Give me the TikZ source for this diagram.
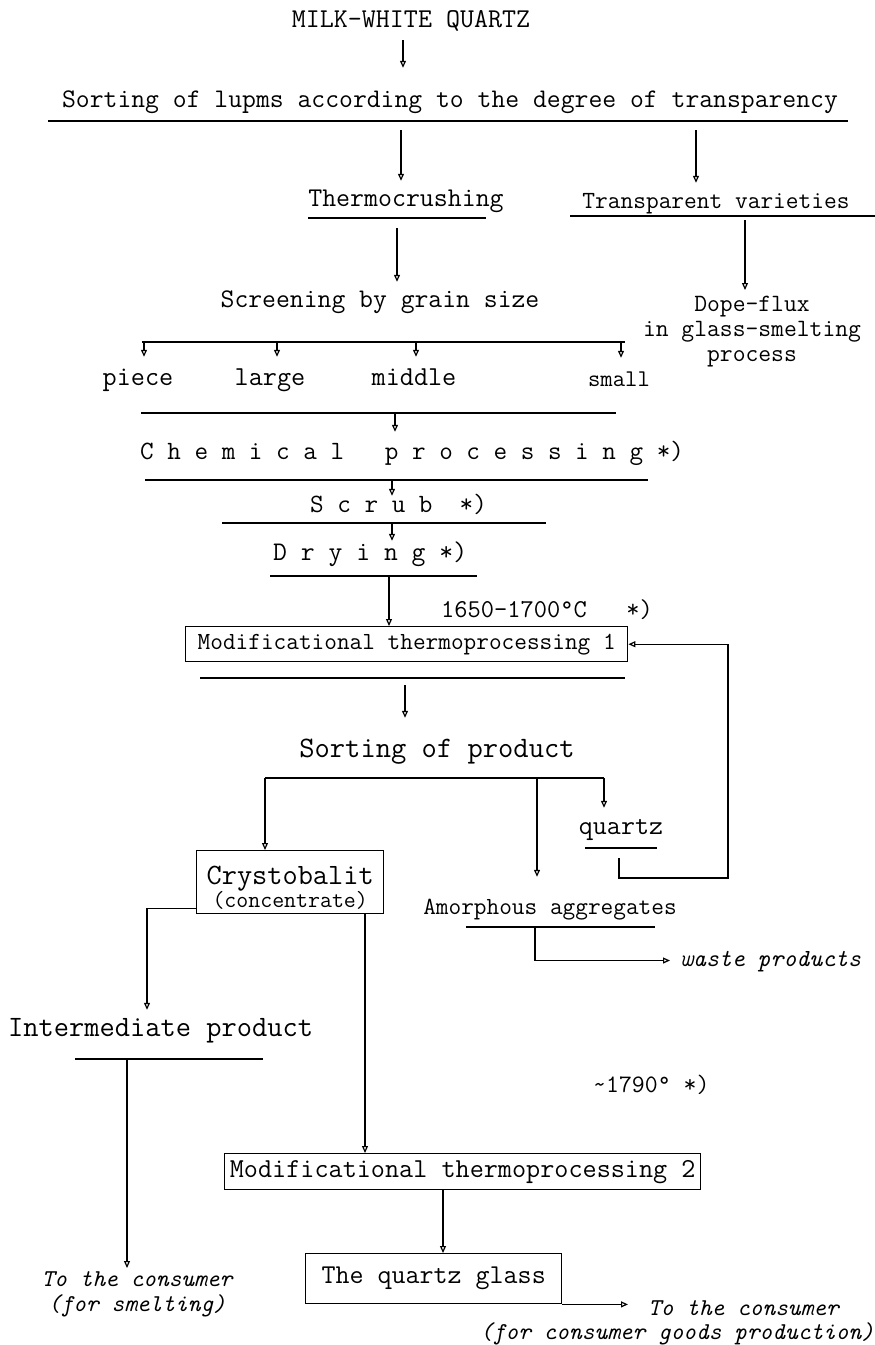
\documentclass[tikz,border=0pt]{standalone}
\usepackage{fontspec}
\setmainfont{Latin Modern Mono}
\usetikzlibrary{arrows.meta}
\begin{document}
\begin{tikzpicture}[x=1pt,y=-1pt,
  txt/.style={inner sep=0pt, text height=16pt, text depth=5pt},
  fs/.style={font=\fontsize{#1}{25}\selectfont},
  ital/.style={font=\fontsize{#1}{25}\selectfont\itshape},
  bar/.style={line width=2.6pt},
  thinbar/.style={line width=1.6pt},
  conn/.style={line width=1.2pt},
  arr/.style={conn, -{Triangle[open, length=7pt, width=6pt]}},
  box/.style={draw, line width=1.4pt, inner sep=0pt, align=center},
]
\fill[white] (0,0) rectangle (875,1345);
\useasboundingbox (0,0) rectangle (875,1345);

% ---- text labels ----
\node[txt, fs=27.2, anchor=base] (milk) at (411,27) {MILK-WHITE QUARTZ};
\node[txt, fs=26.9, anchor=base] (lupms) at (450,107) {Sorting of lupms according to the degree of transparency};
\node[txt, fs=27.1, anchor=base] (thermo) at (406,206) {Thermocrushing};
\node[txt, fs=24.7, anchor=base] (transp) at (716,208) {Transparent varieties};
\node[txt, fs=26.9, anchor=base] (screen) at (380,307) {Screening by grain size};
\node[fs=24.9, align=center, inner sep=0pt, anchor=north] (dope) at (752,296) {Dope-flux\\in glass-smelting\\process};
\node[txt, fs=27.4, anchor=base] (piece) at (138,385) {piece};
\node[txt, fs=27.4, anchor=base] (large) at (270,385) {large};
\node[txt, fs=27.4, anchor=base] (middle) at (414,385) {middle};
\node[txt, fs=24, anchor=base] (small) at (619,386) {small};
\node[txt, fs=26.4, anchor=base west] (chem) at (140,459) {C~h~e~m~i~c~a~l~~~p~r~o~c~e~s~s~i~n~g~*)};
\node[txt, fs=26.4, anchor=base west] (scrub) at (310,512) {S~c~r~u~b~~*)};
\node[txt, fs=26.9, anchor=base west] (dry) at (273,560) {D~r~y~i~n~g~*)};
\node[txt, fs=25.7, anchor=base west] (temp1) at (441,617) {1650-1700°C~~~*)};
\node[box, fs=24.6, minimum width=442, minimum height=35, anchor=north west] (mod1) at (185,626) {Modificational thermoprocessing 1};
\node[txt, fs=29.7, anchor=base] (prod) at (437,757) {Sorting of product};
\node[txt, fs=27.2, anchor=base] (quartz) at (621,834) {quartz};
\node[box, minimum width=187, minimum height=63, anchor=north west] (cryst) at (196,850)
  {\raisebox{-6pt}[\height][\depth]{\begin{tabular}{@{}c@{}}%
    \fontsize{29.5}{30}\selectfont Crystobalit\\[1pt]%
    \fontsize{23.2}{24}\selectfont (concentrate)\end{tabular}}};
\node[txt, fs=24.6, anchor=base] (amorph) at (550,914) {Amorphous aggregates};
\node[txt, ital=24.6, anchor=base west] (waste) at (680,966) {waste products};
\node[txt, fs=29.6, anchor=base west] (inter) at (8,1036) {Intermediate product};
\node[txt, fs=25.1, anchor=base west] (temp2) at (593,1092) {\textasciitilde 1790°~*)};
\node[box, fs=27.4, minimum width=476, minimum height=36, anchor=north west] (mod2) at (224,1153) {Modificational thermoprocessing 2};
\node[box, fs=27.2, minimum width=256, minimum height=50, anchor=north west] (glass) at (305,1253) {The quartz glass};
\node[ital=24.2, align=center, inner sep=0pt, anchor=north] (cons1) at (137,1271) {To the consumer\\(for smelting)};
\node[txt, ital=24.2, anchor=base west] (cons2) at (648,1315) {To the consumer};
\node[txt, ital=24.2, anchor=base west] (cons3) at (480,1339) {(for consumer goods production)};

% ---- underline bars ----
\coordinate (b1L) at (48,121);   \coordinate (b1R) at (848,121);
\coordinate (b2L) at (308,218);  \coordinate (b2R) at (486,218);
\coordinate (b3L) at (570,216);  \coordinate (b3R) at (875,216);
\coordinate (b4L) at (142,342);  \coordinate (b4R) at (625,342);
\coordinate (b5L) at (141,413);  \coordinate (b5R) at (616,413);
\coordinate (b6L) at (145,480);  \coordinate (b6R) at (648,480);
\coordinate (b7L) at (222,523);  \coordinate (b7R) at (546,523);
\coordinate (b8dL) at (270,576); \coordinate (b8dR) at (477,576);
\coordinate (b8L) at (200,678);  \coordinate (b8R) at (625,678);
\coordinate (b9L) at (265,778);  \coordinate (b9R) at (604,778);
\coordinate (qbarL) at (585,848); \coordinate (qbarR) at (657,848);
\coordinate (abarL) at (466,927); \coordinate (abarR) at (655,927);
\coordinate (ibarL) at (75,1059); \coordinate (ibarR) at (263,1059);
\coordinate (fb) at (728,878);

\draw[bar] (b1L) -- (b1R);
\draw[bar] (b2L) -- (b2R);
\draw[bar] (b3L) -- (b3R);
\draw[bar] (b4L) -- (b4R);
\draw[thinbar] (b5L) -- (b5R);
\draw[bar] (b6L) -- (b6R);
\draw[bar] (b7L) -- (b7R);
\draw[bar] (b8dL) -- (b8dR);
\draw[bar] (b8L) -- (b8R);
\draw[thinbar] (b9L) -- (b9R);
\draw[bar] (qbarL) -- (qbarR);
\draw[thinbar] (abarL) -- (abarR);
\draw[bar] (ibarL) -- (ibarR);

% ---- connectors ----
\draw[arr, shorten <=8pt, shorten >=23pt] (403,0 |- milk.south) -- (403,0 |- lupms.north);
\draw[arr, shorten <=9pt, shorten >=9pt] (401,0 |- b1L) -- (401,0 |- thermo.north);
\draw[arr, shorten <=9pt, shorten >=9pt] (696,0 |- b1L) -- (696,0 |- transp.north);
\draw[arr, shorten <=10pt, shorten >=9pt] (397,0 |- b2L) -- (397,0 |- screen.north);
\draw[arr, shorten <=4pt, shorten >=6pt] (745,0 |- b3L) -- (745,0 |- dope.north);
\foreach \n/\x in {piece/144, large/277, middle/416, small/621}
  \draw[arr, shorten >=12pt] (\x,0 |- b4L) -- (\x,0 |- \n.north);
\draw[arr, shorten >=11pt] (395,0 |- b5L) -- (395,0 |- chem.north);
\draw[arr] (392,0 |- b6L) -- (392,0 |- scrub.north);
\draw[arr, shorten >=3pt] (392,0 |- b7L) -- (392,0 |- dry.north);
\draw[arr] (389,0 |- b8dL) -- (389,0 |- mod1.north);
\draw[arr, shorten <=7pt, shorten >=23pt] (405,0 |- b8L) -- (405,0 |- prod.north);
\draw[arr] (b9L) -- (b9L |- cryst.north);
\draw[arr, shorten >=10pt] (b9R) -- (b9R |- quartz.north);
\draw[arr, shorten >=21pt] (537,0 |- b9L) -- (537,0 |- amorph.north);
\draw[arr, shorten <=10pt] (619,0 |- qbarL) -- (619,0 |- fb) -- (fb) |- (mod1.east);
\draw[arr, shorten >=10pt] (535,0 |- abarL) -- (535,0 |- waste.west) -- (waste.west);
\draw[arr, shorten >=10pt] ([yshift=-26pt]cryst.west) -| (147,0 |- inter.north);
\draw[arr, shorten >=3pt] (127,0 |- ibarL) -- (127,0 |- cons1.north);
\draw[arr] (365,0 |- cryst.south) -- (365,0 |- mod2.north);
\draw[arr] (443,0 |- mod2.south) -- (443,0 |- glass.north);
\draw[arr, shorten >=20pt] (glass.south east) -- (glass.south east -| cons2.west);
\end{tikzpicture}
\end{document}
